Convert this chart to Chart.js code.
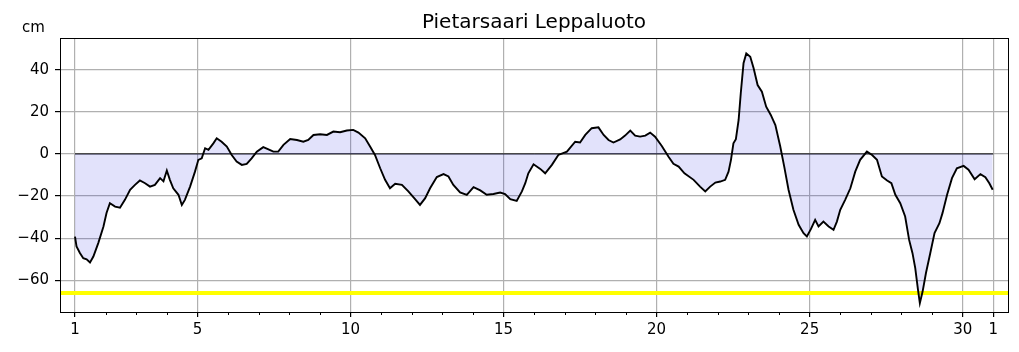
<!DOCTYPE html>
<html>
<head>
<meta charset="utf-8">
<script src="https://cdn.jsdelivr.net/npm/chart.js@4/dist/chart.umd.min.js"></script>
<style>
  html, body { margin: 0; padding: 0; background: #fff; }
  #wrap { width: 1019px; height: 352px; }
</style>
</head>
<body>
<div id="wrap"><canvas id="seaChart" width="1019" height="352"></canvas></div>
<script>
// Sea level (cm), x in days of the month
const days = [1.00, 1.05, 1.16, 1.27, 1.38, 1.49, 1.60, 1.76, 1.93, 2.03, 2.14, 2.31, 2.47, 2.63, 2.80, 2.96,
  3.12, 3.29, 3.45, 3.61, 3.78, 3.89, 4.00, 4.10, 4.21, 4.38, 4.49, 4.59, 4.76, 4.92, 5.03, 5.14, 5.25, 5.36,
  5.52, 5.63, 5.79, 5.96, 6.12, 6.28, 6.45, 6.61, 6.77, 6.94, 7.15, 7.32, 7.48, 7.64, 7.81, 8.03, 8.25, 8.46,
  8.62, 8.79, 9.01, 9.23, 9.44, 9.66, 9.88, 10.09, 10.26, 10.48, 10.64, 10.80, 10.97, 11.13, 11.29, 11.46,
  11.68, 11.89, 12.11, 12.27, 12.44, 12.60, 12.82, 13.04, 13.20, 13.36, 13.58, 13.80, 14.02, 14.24, 14.45,
  14.67, 14.89, 15.05, 15.22, 15.43, 15.60, 15.71, 15.81, 15.98, 16.20, 16.36, 16.58, 16.79, 17.07, 17.34,
  17.50, 17.67, 17.88, 18.10, 18.27, 18.43, 18.59, 18.81, 18.97, 19.14, 19.30, 19.46, 19.63, 19.79, 19.95,
  20.17, 20.39, 20.55, 20.72, 20.91, 21.21, 21.42, 21.59, 21.75, 21.92, 22.08, 22.24, 22.35, 22.43, 22.51,
  22.59, 22.68, 22.75, 22.84, 22.93, 23.06, 23.17, 23.30, 23.44, 23.58, 23.73, 23.88, 24.04, 24.17, 24.31,
  24.47, 24.64, 24.80, 24.91, 25.04, 25.18, 25.29, 25.45, 25.62, 25.78, 25.89, 26.00, 26.16, 26.33, 26.49,
  26.65, 26.87, 27.04, 27.20, 27.36, 27.53, 27.67, 27.80, 27.96, 28.12, 28.25, 28.36, 28.45, 28.54, 28.60,
  28.69, 28.80, 28.94, 29.08, 29.24, 29.34, 29.49, 29.65, 29.81, 30.03, 30.19, 30.39, 30.58, 30.74, 30.87, 30.98];

const levels = [-39.2, -43.9, -47, -49.5, -50, -51.5, -48.7, -42.3, -34.4, -28, -23.4, -25, -25.5, -21.8, -17, -14.7,
  -12.6, -13.9, -15.5, -14.7, -11.5, -13, -7.9, -12.3, -16.3, -19.4, -24.2, -21.8, -15.5, -8.4, -2.8, -2.1, 2.7, 1.9,
  5, 7.4, 5.8, 3.5, -0.5, -3.6, -5.2, -4.7, -2.1, 1.1, 3.2, 2.2, 1.1, 1.1, 4.3, 7.1, 6.6, 5.8,
  6.6, 9.0, 9.3, 9.0, 10.6, 10.3, 11.1, 11.4, 10.1, 7.4, 3.5, -0.5, -6.8, -12.3, -16.3, -14.2,
  -14.7, -17.8, -21.5, -24.2, -21, -16.3, -11, -9.6, -10.7, -14.7, -18.3, -19.4, -15.8, -17.3, -19.4,
  -19, -18.3, -19, -21.5, -22.3, -17.8, -13.9, -9.2, -4.9, -7.1, -9.2, -5.2, -0.5, 1.1, 5.8,
  5.4, 9.0, 12.2, 12.6, 9.0, 6.6, 5.4, 6.9, 8.7, 11.1, 8.7, 8.2, 8.7, 10.1, 8.2,
  3.8, -1.3, -4.7, -6, -9.2, -12.3, -15.5, -17.8, -15.5, -13.6, -13.1, -12.3, -8.4, -2.8, 5,
  7.0, 16.1, 28.8, 43, 47.7, 46.1, 40.6, 32.7, 29.5, 22.4, 18.5, 13.7, 3.5, -6, -17,
  -26.5, -33.6, -37.6, -39.2, -35.7, -31.3, -34.4, -32.1, -34.4, -36, -32.1, -26.5, -21.8, -16.3, -8.4,
  -2.8, 1.1, -0.5, -2.8, -10.7, -12.6, -13.9, -19.4, -23.4, -29.7, -40.8, -47.1, -54.2, -64.5, -70.8,
  -65.3, -56.5, -47.1, -37.6, -32.9, -28.1, -19.4, -11.5, -6.8, -5.7, -7.5, -12, -9.6, -11, -13.9, -17];

const warnLevel = -66;
const firstDay = 1;
const lastDay = 31;

const xTicks = [1, 5, 10, 15, 20, 25, 30, 31];
const xTickLabels = ['1', '5', '10', '15', '20', '25', '30', '1'];
const yTicks = [-60, -40, -20, 0, 20, 40];

const chartTitle = 'Pietarsaari Leppaluoto';
const unitLabel = 'cm';

const fontFamily = '"DejaVu Sans", sans-serif';

// build points for the library
const seaPoints = days.map((d, i) => ({ x: d, y: levels[i] }));

const xMin = 0.51;
const xMax = 31.48;

// draws title, unit, frame and small day ticks
const extras = {
    id: 'extras',
    afterDraw(chart) {
        const ctx = chart.ctx;
        const area = chart.chartArea;
        const xs = chart.scales.x;
        ctx.save();

        // minor ticks for every day
        ctx.strokeStyle = '#000';
        ctx.lineWidth = 1;
        for (let d = firstDay; d <= lastDay; d++) {
            if (xTicks.includes(d)) continue;
            const px = Math.round(xs.getPixelForValue(d)) + 0.5;
            ctx.beginPath();
            ctx.moveTo(px, area.bottom);
            ctx.lineTo(px, area.bottom + 3);
            ctx.stroke();
        }

        // frame
        ctx.strokeRect(Math.round(area.left) + 0.5, Math.round(area.top) + 0.5,
            Math.round(area.right - area.left), Math.round(area.bottom - area.top));

        // title and unit
        ctx.fillStyle = '#000';
        ctx.font = '20px ' + fontFamily;
        ctx.textAlign = 'center';
        ctx.textBaseline = 'alphabetic';
        ctx.fillText(chartTitle, (area.left + area.right) / 2, 28);

        ctx.font = '15px ' + fontFamily;
        ctx.textAlign = 'left';
        ctx.fillText(unitLabel, 22, 32);
        ctx.restore();
    }
};

const ctx = document.getElementById('seaChart').getContext('2d');
const seaChart = new Chart(ctx, {
    type: 'line',
    data: {
        datasets: [
            {
                label: 'sea level',
                data: seaPoints,
                borderColor: '#000',
                borderWidth: 1.9,
                backgroundColor: 'rgba(20, 20, 220, 0.12)',
                fill: 'origin',
                pointRadius: 0,
                tension: 0,
                order: 1
            },
            {
                label: 'zero',
                data: [{ x: firstDay, y: 0 }, { x: lastDay, y: 0 }],
                borderColor: '#000',
                borderWidth: 1,
                pointRadius: 0,
                fill: false,
                order: 2
            },
            {
                label: 'warning',
                data: [{ x: xMin, y: warnLevel }, { x: xMax, y: warnLevel }],
                borderColor: '#ffff00',
                borderWidth: 4,
                pointRadius: 0,
                fill: false,
                order: 3
            }
        ]
    },
    options: {
        responsive: false,
        animation: false,
        layout: { padding: { top: 38, right: 11, left: 0, bottom: 0 } },
        plugins: {
            legend: { display: false },
            title: { display: false },
            tooltip: { enabled: false }
        },
        scales: {
            x: {
                type: 'linear',
                min: xMin,
                max: xMax,
                afterBuildTicks: function(scale) {
                    scale.ticks = xTicks.map(v => ({ value: v }));
                },
                afterFit: function(scale) {
                    scale.height = 40;
                },
                ticks: {
                    autoSkip: false,
                    maxRotation: 0,
                    color: '#000',
                    padding: 4,
                    font: { family: fontFamily, size: 15 },
                    callback: function(value) {
                        const i = xTicks.indexOf(value);
                        return i >= 0 ? xTickLabels[i] : '';
                    }
                },
                grid: {
                    color: '#b0b0b0',
                    lineWidth: 1.2,
                    tickColor: '#000',
                    tickLength: 5
                },
                border: { color: '#000', width: 1 }
            },
            y: {
                min: -75,
                max: 55,
                afterBuildTicks: function(scale) {
                    scale.ticks = yTicks.map(v => ({ value: v }));
                },
                afterFit: function(scale) {
                    scale.width = 60;
                },
                ticks: {
                    color: '#000',
                    padding: 6,
                    font: { family: fontFamily, size: 15 },
                    callback: function(value) {
                        return value < 0 ? '\u2212' + Math.abs(value) : String(value);
                    }
                },
                grid: {
                    color: '#b0b0b0',
                    lineWidth: 1.2,
                    tickColor: '#000',
                    tickLength: 5
                },
                border: { color: '#000', width: 1 }
            }
        }
    },
    plugins: [extras]
});
</script>
</body>
</html>
